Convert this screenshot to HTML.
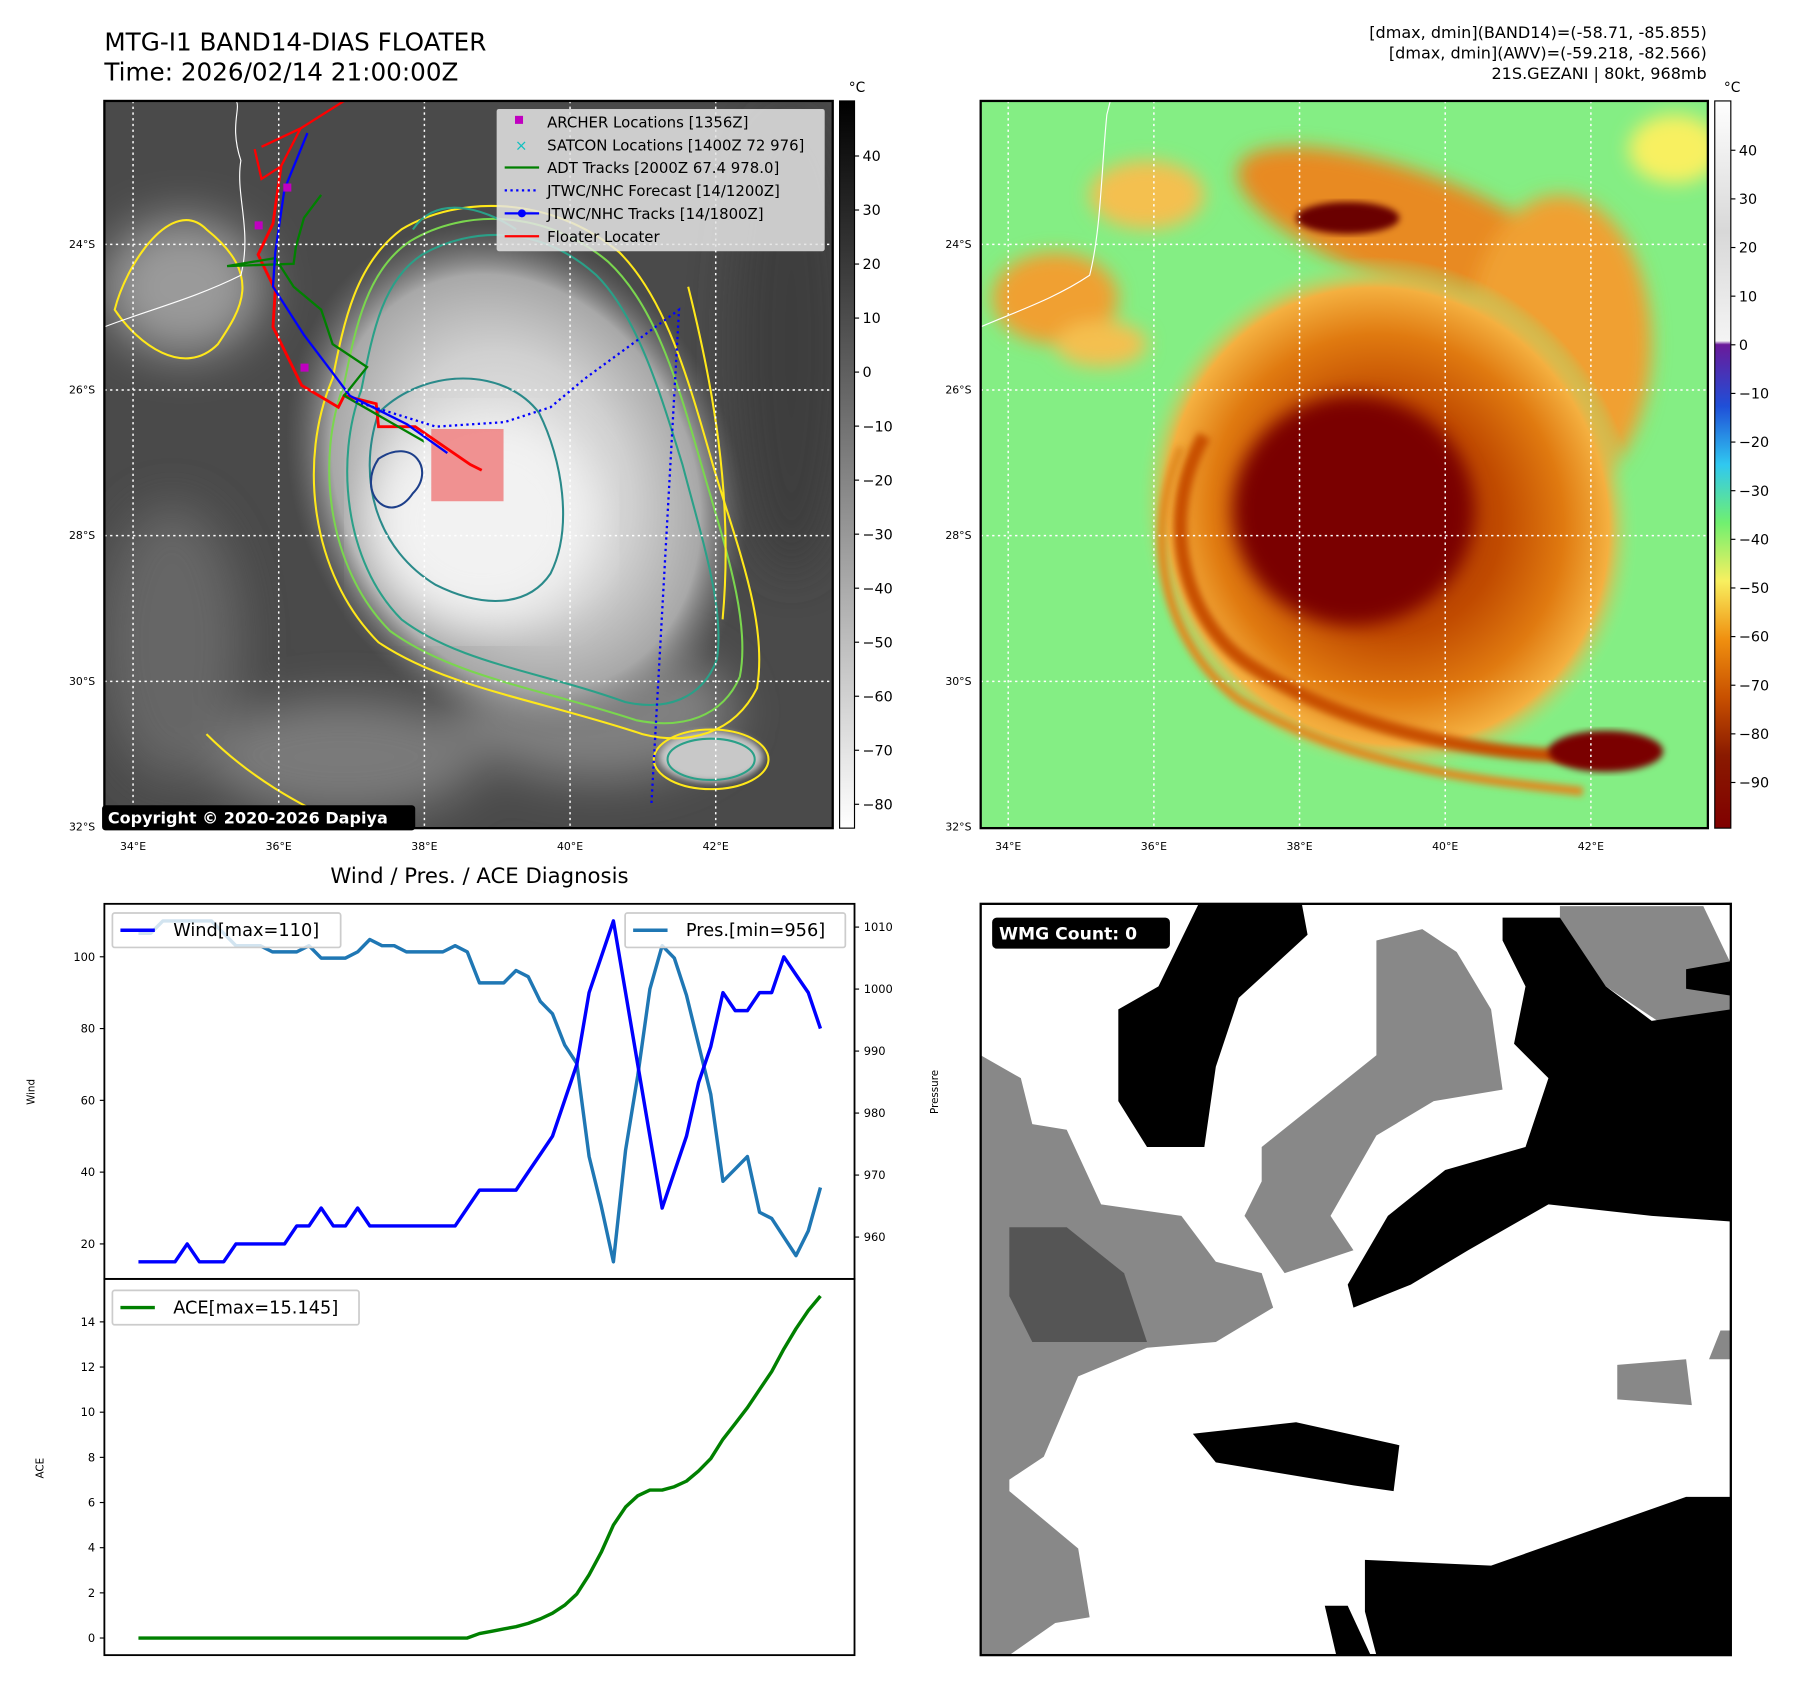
<!DOCTYPE html>
<html><head><meta charset="utf-8"><style>
html,body{margin:0;padding:0;background:#fff;}
svg{display:block;font-family:"DejaVu Sans","Liberation Sans",sans-serif;}
</style></head><body>
<svg id="fig" width="1797" height="1690" viewBox="0 0 1566.7 1473.4" xmlns="http://www.w3.org/2000/svg">
<defs>
<filter id="blur8"><feGaussianBlur stdDeviation="8"/></filter>
<filter id="blur20"><feGaussianBlur stdDeviation="20"/></filter>
<filter id="blur4"><feGaussianBlur stdDeviation="3"/></filter>
<clipPath id="clipL"><rect x="91" y="88" width="635" height="634"/></clipPath>
<clipPath id="clipR"><rect x="855" y="88" width="634" height="634"/></clipPath>
<clipPath id="clipB"><rect x="855" y="788" width="654" height="655"/></clipPath>
<linearGradient id="cbGray" x1="0" y1="0" x2="0" y2="1"><stop offset="0" stop-color="#000"/><stop offset="1" stop-color="#fff"/></linearGradient>
<linearGradient id="cbColor" x1="0" y1="0" x2="0" y2="1">
<stop offset="0" stop-color="#ffffff"/><stop offset="0.18" stop-color="#d8d8d8"/><stop offset="0.33" stop-color="#f4f4f4"/>
<stop offset="0.335" stop-color="#6a1a9a"/><stop offset="0.42" stop-color="#1f4fd8"/><stop offset="0.5" stop-color="#30c8f0"/>
<stop offset="0.58" stop-color="#70f070"/><stop offset="0.66" stop-color="#f8f060"/><stop offset="0.74" stop-color="#f09010"/>
<stop offset="0.82" stop-color="#c85000"/><stop offset="0.9" stop-color="#8a1a00"/><stop offset="1" stop-color="#800000"/></linearGradient>
<radialGradient id="stormL" cx="0.5" cy="0.5" r="0.5"><stop offset="0" stop-color="#eeeeee"/><stop offset="0.5" stop-color="#d0d0d0"/><stop offset="0.8" stop-color="#a8a8a8"/><stop offset="1" stop-color="#707070" stop-opacity="0"/></radialGradient>
<radialGradient id="stormR" cx="0.5" cy="0.5" r="0.5"><stop offset="0" stop-color="#a02800"/><stop offset="0.45" stop-color="#c04a00"/><stop offset="0.7" stop-color="#e07a10"/><stop offset="0.88" stop-color="#f4b040"/><stop offset="1" stop-color="#88f088" stop-opacity="0"/></radialGradient>
</defs>

<text x="91" y="44" font-size="21.5">MTG-I1 BAND14-DIAS FLOATER</text>
<text x="91" y="70" font-size="21.5">Time: 2026/02/14 21:00:00Z</text>
<g font-size="14" text-anchor="end">
<text x="1488" y="33">[dmax, dmin](BAND14)=(-58.71, -85.855)</text>
<text x="1488" y="51">[dmax, dmin](AWV)=(-59.218, -82.566)</text>
<text x="1488" y="69">21S.GEZANI | 80kt, 968mb</text>
</g>

<!-- LEFT MAP -->
<g clip-path="url(#clipL)">
<rect x="91" y="88" width="635" height="634" fill="#4a4a4a"/>
<g filter="url(#blur20)">
<ellipse cx="160" cy="250" rx="70" ry="60" fill="#9a9a9a"/>
<ellipse cx="150" cy="560" rx="60" ry="120" fill="#666"/>
<ellipse cx="300" cy="660" rx="120" ry="50" fill="#7a7a7a"/>
<ellipse cx="690" cy="300" rx="50" ry="200" fill="#3c3c3c"/>
<ellipse cx="520" cy="620" rx="120" ry="60" fill="#808080"/>
</g>
<ellipse cx="450" cy="420" rx="190" ry="235" transform="rotate(-28 450 420)" fill="url(#stormL)"/>
<ellipse cx="420" cy="455" rx="100" ry="90" fill="#f2f2f2" filter="url(#blur20)"/>
<ellipse cx="620" cy="660" rx="45" ry="22" fill="#c8c8c8" filter="url(#blur4)"/>
<g fill="none" stroke-width="1.8">
<path d="M290 330 C260 400 270 500 330 560 C390 600 470 610 560 640 C600 650 640 640 660 600 C670 540 640 470 620 400 C600 330 580 260 540 220 C480 170 400 170 350 200 C310 230 300 280 290 330Z" stroke="#ffe81a"/>
<path d="M300 335 C275 400 285 495 340 550 C395 590 470 600 555 628 C595 636 630 625 645 590 C655 540 630 470 610 400 C590 330 570 265 530 228 C475 182 405 182 358 210 C320 235 310 285 300 335Z" stroke="#7ad64e"/>
<path d="M315 340 C292 400 300 490 350 540 C400 578 470 585 545 612 C580 620 612 610 625 575 C632 530 612 470 595 405 C575 340 555 275 520 240 C470 195 410 198 368 222 C333 245 325 290 315 340Z" stroke="#2aa088"/>
<path d="M330 360 C310 420 330 480 380 510 C420 530 460 530 480 500 C500 460 490 400 470 360 C440 320 370 320 330 360Z" stroke="#2a8a8a"/>
<path d="M180 200 C150 170 110 230 100 270 C120 300 160 330 190 300 C210 270 230 240 180 200Z" stroke="#ffe81a"/>
<path d="M330 400 C360 380 380 410 360 430 C340 460 310 430 330 400Z" stroke="#1d3f8a"/>
<ellipse cx="620" cy="662" rx="50" ry="26" stroke="#ffe81a"/>
<ellipse cx="620" cy="662" rx="38" ry="18" stroke="#2aa088"/>
<path d="M600 250 C620 330 640 430 630 540" stroke="#ffe81a"/>
<path d="M180 640 C220 680 260 700 300 720" stroke="#ffe81a"/>
<path d="M360 200 C380 170 420 180 450 200" stroke="#2aa088"/>
</g>
<rect x="376" y="374" width="63" height="63" fill="#f08080" opacity="0.85"/>
<g fill="none" stroke="#fff" stroke-width="1">
<path d="M91 285 C130 270 170 260 210 240 C220 200 205 170 210 140 C200 110 210 95 206 88"/>
</g>
<g fill="none" stroke-width="2">
<path d="M228 128 L262 112 L300 88 M222 130 L228 156 L245 145 L262 112" stroke="#ff0000"/>
<path d="M245 145 L238 195 L225 222 L240 253 L238 285 L263 336 L295 355 L300 345 L328 352 L330 372 L362 372 L410 405 L420 410" stroke="#ff0000" stroke-width="2.5"/>
<path d="M280 170 L265 190 L258 215 L256 230 L198 232 L240 225 L256 250 L280 270 L290 300 L320 320 L300 345 L370 385" stroke="#008000"/>
<path d="M268 116 L248 165 L240 220 L238 250 L265 292 L290 325 L305 345 L355 370 L390 395" stroke="#0000ff"/>
<path d="M310 350 L380 372 L440 368 L480 355 L510 330 L592 270 L568 700" stroke="#0000ff" stroke-dasharray="2,3"/>
</g>
<g fill="#c000c0"><rect x="262" y="317" width="7" height="7"/><rect x="222" y="193" width="7" height="7"/><rect x="247" y="160" width="7" height="7"/></g>
<g stroke="#fff" stroke-width="1.3" stroke-dasharray="2,3" fill="none">
<line x1="116" y1="88" x2="116" y2="722"/><line x1="243" y1="88" x2="243" y2="722"/><line x1="370" y1="88" x2="370" y2="722"/><line x1="497" y1="88" x2="497" y2="722"/><line x1="624" y1="88" x2="624" y2="722"/>
<line x1="91" y1="213" x2="726" y2="213"/><line x1="91" y1="340" x2="726" y2="340"/><line x1="91" y1="467" x2="726" y2="467"/><line x1="91" y1="594" x2="726" y2="594"/>
</g>
<g>
<rect x="433" y="95" width="286" height="124" fill="#e4e4e4" opacity="0.85" rx="2"/>
<g font-size="13">
<rect x="449" y="101" width="7" height="7" fill="#c000c0"/><text x="477" y="111">ARCHER Locations [1356Z]</text>
<text x="449" y="131" fill="#10c0c0" font-size="13">×</text><text x="477" y="131">SATCON Locations [1400Z 72 976]</text>
<line x1="440" y1="146" x2="470" y2="146" stroke="#008000" stroke-width="2"/><text x="477" y="151">ADT Tracks [2000Z 67.4 978.0]</text>
<line x1="440" y1="166" x2="470" y2="166" stroke="#0000ff" stroke-width="2" stroke-dasharray="2,3"/><text x="477" y="171">JTWC/NHC Forecast [14/1200Z]</text>
<line x1="440" y1="186" x2="470" y2="186" stroke="#0000ff" stroke-width="2"/><circle cx="455" cy="186" r="3.5" fill="#0000ff"/><text x="477" y="191">JTWC/NHC Tracks [14/1800Z]</text>
<line x1="440" y1="206" x2="470" y2="206" stroke="#ff0000" stroke-width="2"/><text x="477" y="211">Floater Locater</text>
</g></g>
</g>
<rect x="91" y="88" width="635" height="634" fill="none" stroke="#000" stroke-width="2"/>
<g><rect x="89" y="702" width="273" height="22" fill="#000" rx="3"/><text x="94" y="718" fill="#fff" font-size="14" font-weight="bold">Copyright © 2020-2026 Dapiya</text></g>

<!-- RIGHT MAP -->
<g clip-path="url(#clipR)">
<rect x="855" y="88" width="634" height="634" fill="#84ee84"/>
<g filter="url(#blur8)">
<ellipse cx="920" cy="260" rx="55" ry="40" fill="#f0a030"/>
<ellipse cx="960" cy="300" rx="40" ry="20" fill="#f4c050"/>
<ellipse cx="1460" cy="130" rx="40" ry="30" fill="#f8f060"/>
<ellipse cx="1000" cy="170" rx="50" ry="30" fill="#f4c050"/>
<ellipse cx="1230" cy="200" rx="160" ry="50" fill="#e88a20" transform="rotate(20 1230 200)"/>
<ellipse cx="1360" cy="300" rx="80" ry="130" fill="#f0a030"/>
</g>
<ellipse cx="1210" cy="450" rx="215" ry="230" transform="rotate(-30 1210 450)" fill="url(#stormR)"/>
<ellipse cx="1180" cy="445" rx="105" ry="100" fill="#7a0000" filter="url(#blur8)"/>
<ellipse cx="1175" cy="190" rx="45" ry="14" fill="#6a0000" filter="url(#blur4)"/>
<path d="M1050 380 C1010 450 1030 540 1090 580 C1180 640 1300 660 1400 660" fill="none" stroke="#c85000" stroke-width="12" filter="url(#blur4)"/>
<path d="M1030 390 C995 470 1015 560 1080 610 C1180 670 1290 680 1380 690" fill="none" stroke="#e08a20" stroke-width="8" filter="url(#blur4)"/>
<ellipse cx="1400" cy="655" rx="50" ry="18" fill="#7a0000" filter="url(#blur4)"/>
<path d="M855 285 C890 270 920 260 950 240 C960 200 960 150 965 100 L968 88" fill="none" stroke="#fff" stroke-width="1"/>
<g stroke="#fff" stroke-width="1.3" stroke-dasharray="2,3" fill="none">
<line x1="879" y1="88" x2="879" y2="722"/><line x1="1006" y1="88" x2="1006" y2="722"/><line x1="1133" y1="88" x2="1133" y2="722"/><line x1="1260" y1="88" x2="1260" y2="722"/><line x1="1387" y1="88" x2="1387" y2="722"/>
<line x1="855" y1="213" x2="1489" y2="213"/><line x1="855" y1="340" x2="1489" y2="340"/><line x1="855" y1="467" x2="1489" y2="467"/><line x1="855" y1="594" x2="1489" y2="594"/>
</g>
</g>
<rect x="855" y="88" width="634" height="634" fill="none" stroke="#000" stroke-width="2"/>

<g font-size="9.5">
<g text-anchor="end"><text x="83" y="216">24°S</text><text x="83" y="343">26°S</text><text x="83" y="470">28°S</text><text x="83" y="597">30°S</text><text x="83" y="724">32°S</text>
<text x="847" y="216">24°S</text><text x="847" y="343">26°S</text><text x="847" y="470">28°S</text><text x="847" y="597">30°S</text><text x="847" y="724">32°S</text></g>
<g text-anchor="middle"><text x="116" y="741">34°E</text><text x="243" y="741">36°E</text><text x="370" y="741">38°E</text><text x="497" y="741">40°E</text><text x="624" y="741">42°E</text>
<text x="879" y="741">34°E</text><text x="1006" y="741">36°E</text><text x="1133" y="741">38°E</text><text x="1260" y="741">40°E</text><text x="1387" y="741">42°E</text></g>
</g>

<g>
<rect x="732" y="88" width="13" height="634" fill="url(#cbGray)" stroke="#000" stroke-width="1"/>
<text x="740" y="80" font-size="12">°C</text>
<g id="cb1ticks" font-size="12.5"></g>
</g>
<g>
<rect x="1495" y="88" width="14" height="634" fill="url(#cbColor)" stroke="#000" stroke-width="1"/>
<text x="1503" y="80" font-size="12">°C</text>
<g id="cb2ticks" font-size="12.5"></g>
</g>

<text x="418" y="770" font-size="18.5" text-anchor="middle">Wind / Pres. / ACE Diagnosis</text>
<g id="chart"></g>

<g clip-path="url(#clipB)">
<rect x="855" y="788" width="654" height="655" fill="#fff"/>
<g fill="#888">
<polygon points="855,920 890,940 900,980 930,985 960,1050 1030,1060 1060,1100 1100,1110 1110,1140 1060,1170 1000,1175 940,1200 910,1270 880,1290 880,1300 940,1350 950,1410 920,1415 880,1443 855,1443"/>
<polygon points="1100,1000 1200,920 1200,820 1240,810 1270,830 1300,880 1310,950 1250,960 1200,990 1160,1060 1180,1090 1120,1110 1085,1060 1100,1030"/>
<polygon points="1360,790 1485,790 1509,840 1509,910 1475,910 1400,860 1360,810"/>
<polygon points="1410,1190 1470,1185 1475,1225 1410,1220"/>
<polygon points="1500,1160 1509,1160 1509,1185 1490,1185"/>
</g>
<polygon fill="#555" points="880,1070 930,1070 980,1110 1000,1170 900,1170 880,1130"/>
<g fill="#000">
<polygon points="1045,788 1135,788 1140,815 1080,870 1060,930 1050,1000 1000,1000 975,960 975,880 1010,860"/>
<polygon points="1310,800 1360,800 1400,860 1440,890 1509,880 1509,1065 1440,1060 1350,1050 1280,1090 1230,1120 1180,1140 1175,1120 1210,1060 1260,1020 1330,1000 1350,940 1320,910 1330,860 1310,820"/>
<polygon points="1470,845 1509,838 1509,868 1470,862"/>
<polygon points="1040,1250 1130,1240 1220,1260 1215,1300 1180,1295 1060,1275"/>
<polygon points="1190,1360 1300,1365 1470,1305 1509,1305 1509,1443 1200,1443 1190,1405"/>
<polygon points="1155,1400 1175,1400 1195,1443 1165,1443"/>
</g>
</g>
<rect x="855" y="788" width="654" height="655" fill="none" stroke="#000" stroke-width="2"/>
<g><rect x="865" y="800" width="155" height="27" rx="4" fill="#000"/><text x="871" y="819" fill="#fff" font-size="15" font-weight="bold">WMG Count: 0</text></g>
</svg>

<script>
const NS='http://www.w3.org/2000/svg';
const windValues=[15,15,15,15,20,15,15,15,20,20,20,20,20,25,25,30,25,25,30,25,25,25,25,25,25,25,25,30,35,35,35,35,40,45,50,60,70,90,100,110,90,70,50,30,40,50,65,75,90,85,85,90,90,100,95,90,80];
const presValues=[1009,1009,1011,1011,1011,1011,1011,1009,1007,1007,1007,1006,1006,1006,1007,1005,1005,1005,1006,1008,1007,1007,1006,1006,1006,1006,1007,1006,1001,1001,1001,1003,1002,998,996,991,988,973,965,956,974,986,1000,1007,1005,999,991,983,969,971,973,964,963,960,957,961,968];
const aceValues=[0,0,0,0,0,0,0,0,0,0,0,0,0,0,0,0,0,0,0,0,0,0,0,0,0,0,0,0,0.2,0.3,0.4,0.5,0.65,0.85,1.1,1.45,1.95,2.8,3.8,5.0,5.8,6.3,6.55,6.55,6.7,6.95,7.4,7.95,8.8,9.5,10.2,11.0,11.8,12.8,13.7,14.5,15.145];
const windTicks=[20,40,60,80,100];
const presTicks=[960,970,980,990,1000,1010];
const aceTicks=[0,2,4,6,8,10,12,14];
const cb1Ticks=[40,30,20,10,0,-10,-20,-30,-40,-50,-60,-70,-80];
const cb2Ticks=[40,30,20,10,0,-10,-20,-30,-40,-50,-60,-70,-80,-90];

const X0=91,X1=745,T0=788,T1=1115,B1=1443;
function ext(a){let mn=Math.min(...a),mx=Math.max(...a),r=(mx-mn)||1;return [mn-r*0.05,mx+r*0.05];}
const n=windValues.length;
const xr=[-(n-1)*0.05,(n-1)*1.05];
const xs=i=>X0+(i-xr[0])/(xr[1]-xr[0])*(X1-X0);
const wr=ext(windValues),pr=ext(presValues),ar=ext(aceValues);
const yw=v=>T1-(v-wr[0])/(wr[1]-wr[0])*(T1-T0);
const yp=v=>T1-(v-pr[0])/(pr[1]-pr[0])*(T1-T0);
const ya=v=>B1-(v-ar[0])/(ar[1]-ar[0])*(B1-T1);
const chart=document.getElementById('chart');
function mk(tag,attrs,parent){const e=document.createElementNS(NS,tag);for(const k in attrs)e.setAttribute(k,attrs[k]);(parent||chart).appendChild(e);return e;}
function line(vals,yf,color,name){
  const d=vals.map((v,i)=>(i?'L':'M')+xs(i).toFixed(1)+' '+yf(v).toFixed(1)).join(' ');
  const p=mk('path',{d:d,fill:'none',stroke:color,'stroke-width':3,'stroke-linejoin':'round'});
  
  
}
function ticks(tk,yf,x,side,name){
  const g=mk('g',{'font-size':10});
  
  
  tk.forEach(t=>{const y=yf(t);
    mk('line',{x1:x,x2:x+(side<0?-4:4),y1:y,y2:y,stroke:'#000','stroke-width':1},g);
    const tx=mk('text',{x:side<0?x-8:x+8,y:y+3.5,'text-anchor':side<0?'end':'start'},g);tx.textContent=t;});
}
line(presValues,yp,'#1f77b4','pressure-line');
line(windValues,yw,'#0000ff','wind-line');
line(aceValues,ya,'#008000','ace-line');
ticks(windTicks,yw,X0,-1,'wind-axis-ticks');
ticks(presTicks,yp,X1,1,'pressure-axis-ticks');
ticks(aceTicks,ya,X0,-1,'ace-axis-ticks');
let f=mk('rect',{x:X0,y:T0,width:X1-X0,height:T1-T0,fill:'none',stroke:'#000','stroke-width':1.6});

f=mk('rect',{x:X0,y:T1,width:X1-X0,height:B1-T1,fill:'none',stroke:'#000','stroke-width':1.6});

function legend(x,y,w,color,label,name){
  const g=mk('g',{});
  
  
  mk('rect',{x:x,y:y,width:w,height:30,fill:'#fff','fill-opacity':0.8,stroke:'#ccc','stroke-width':1.5,rx:2},g);
  mk('line',{x1:x+7,x2:x+37,y1:y+15,y2:y+15,stroke:color,'stroke-width':3},g);
  const t=mk('text',{x:x+53,y:y+20,'font-size':15.5},g);t.textContent=label;
}
legend(98,796,199,'#0000ff','Wind[max=110]','wind-legend');
legend(545,796,192,'#1f77b4','Pres.[min=956]','pressure-legend');
legend(98,1125,215,'#008000','ACE[max=15.145]','ace-legend');
let t=mk('text',{x:30,y:952,'font-size':9,'text-anchor':'middle',transform:'rotate(-90 30 952)'});t.textContent='Wind';

t=mk('text',{x:818,y:952,'font-size':9,'text-anchor':'middle',transform:'rotate(-90 818 952)'});t.textContent='Pressure';

t=mk('text',{x:38,y:1280,'font-size':9,'text-anchor':'middle',transform:'rotate(-90 38 1280)'});t.textContent='ACE';


function cbTicks(id,tk,x,y40,step){
  const g=document.getElementById(id);
  tk.forEach(v=>{const y=y40+(40-v)/10*step;
    mk('line',{x1:x,x2:x+4,y1:y,y2:y,stroke:'#000','stroke-width':1},g);
    const tx=mk('text',{x:x+7,y:y+4.5},g);tx.textContent=(v<0?'\u2212'+(-v):v);});
}
cbTicks('cb1ticks',cb1Ticks,745,136,47.1);
cbTicks('cb2ticks',cb2Ticks,1509,131,42.4);
</script>
</body></html>
